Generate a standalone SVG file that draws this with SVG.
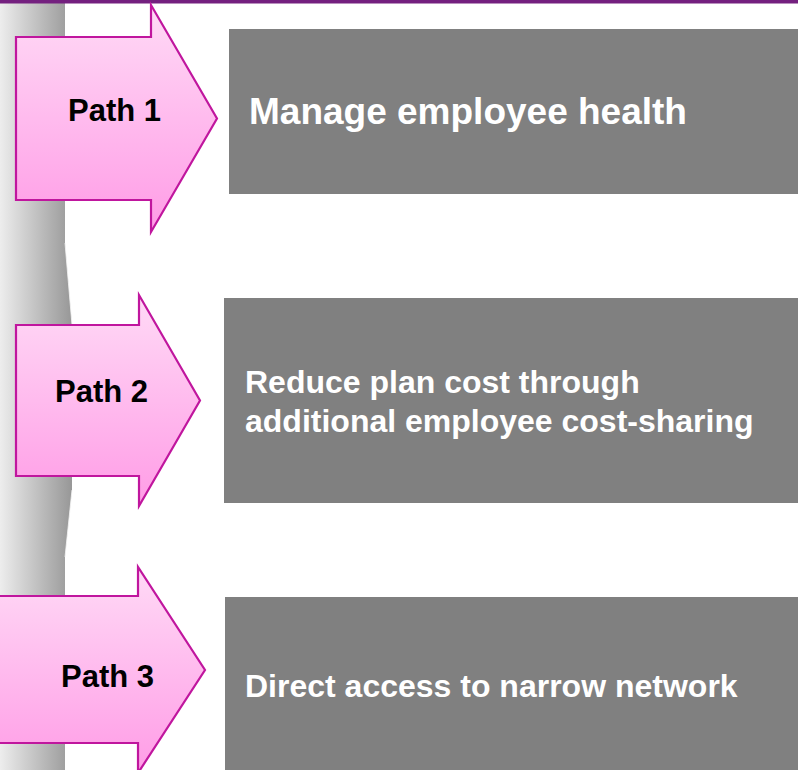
<svg xmlns="http://www.w3.org/2000/svg" width="798" height="770" viewBox="0 0 798 770">
  <defs>
    <linearGradient id="barGrad" x1="0" y1="0" x2="72" y2="0" gradientUnits="userSpaceOnUse">
      <stop offset="0" stop-color="#ededed"/>
      <stop offset="1" stop-color="#979797"/>
    </linearGradient>
    <linearGradient id="arrowGrad" x1="0" y1="0" x2="0" y2="1">
      <stop offset="0" stop-color="#ffdaf6"/>
      <stop offset="1" stop-color="#ff9ce6"/>
    </linearGradient>
    <style>
      .arrow { fill: url(#arrowGrad); stroke: #c0169e; stroke-width: 2.2; stroke-linejoin: miter; }
      .box { fill: #808080; }
      .label { font-family: "Liberation Sans", Arial, sans-serif; font-weight: bold; fill: #000000; font-size: 31px; }
      .boxtext { font-family: "Liberation Sans", Arial, sans-serif; font-weight: bold; fill: #ffffff; font-size: 32px; }
    </style>
  </defs>

  <rect width="798" height="770" fill="#ffffff"/>

  <!-- shaded side bar with a slight bulge -->
  <path d="M0,3 H65 V243 L72,325 V490 L65,557 V770 H0 Z" fill="url(#barGrad)"/>
  <path d="M65,243 L72,325 M72,490 L65,557" stroke="#f4f4f4" stroke-width="1" fill="none" opacity="0.8"/>

  <!-- top rule -->
  <rect x="0" y="0" width="798" height="3.5" fill="#74207f"/>

  <g id="path1">
    <rect class="box" x="229" y="29" width="569" height="165"/>
    <path class="arrow" d="M16,37 H151 V5 L217,118.5 L151,232 V200 H16 Z"/>
    <text class="label" x="68" y="121">Path 1</text>
    <text class="boxtext" x="249" y="124" style="font-size:37px">Manage employee health</text>
  </g>

  <g id="path2">
    <rect class="box" x="224" y="298" width="574" height="205"/>
    <path class="arrow" d="M16,325 H139 V295 L200,400.5 L139,506 V476 H16 Z"/>
    <text class="label" x="55" y="402">Path 2</text>
    <text class="boxtext" x="245" y="393">Reduce plan cost through</text>
    <text class="boxtext" x="245" y="432">additional employee cost-sharing</text>
  </g>

  <g id="path3">
    <rect class="box" x="225" y="597" width="573" height="173"/>
    <path class="arrow" d="M-5,596 H138 V567 L205,670 L138,773 V743 H-5 Z"/>
    <text class="label" x="61" y="687">Path 3</text>
    <text class="boxtext" x="245" y="697">Direct access to narrow network</text>
  </g>
</svg>
